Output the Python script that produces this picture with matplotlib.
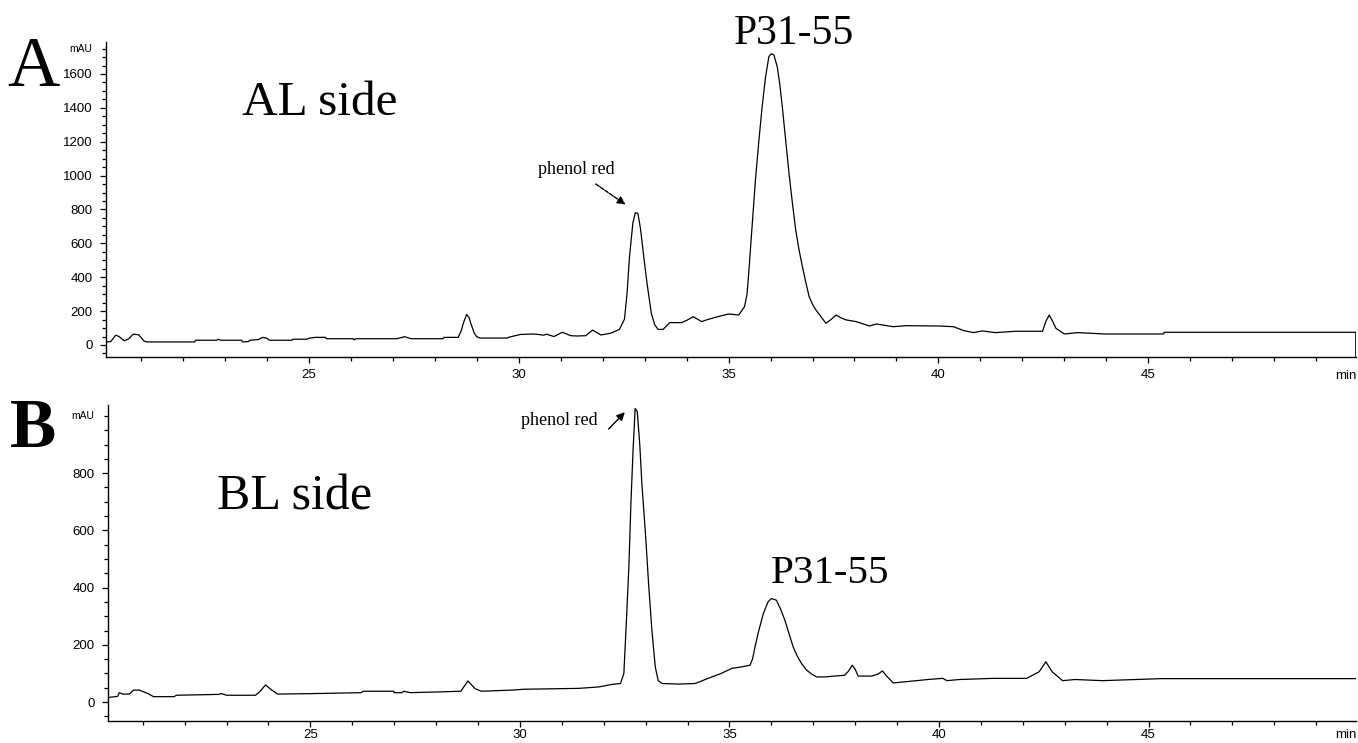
import matplotlib
matplotlib.use("Agg")
import matplotlib.pyplot as plt
from matplotlib.ticker import MultipleLocator

# ---------------- data ----------------
A_time = [20.17, 20.28, 20.40, 20.48, 20.60, 20.70, 20.82, 20.95, 21.08, 21.15,
          22.28, 22.30, 22.80, 22.84, 22.90, 23.40, 23.42, 23.56, 23.60, 23.80,
          23.90, 24.00, 24.06, 24.60, 24.62, 24.96, 25.00, 25.16, 25.40, 25.42,
          26.06, 26.08, 26.12, 27.10, 27.28, 27.44, 28.20, 28.22, 28.56, 28.64,
          28.68, 28.76, 28.82, 28.86, 28.94, 29.00, 29.08, 29.72, 29.80, 30.04,
          30.36, 30.60, 30.66, 30.84, 31.04, 31.24, 31.40, 31.60, 31.76, 31.96,
          32.20, 32.40, 32.52, 32.58, 32.64, 32.72, 32.78, 32.84, 32.90, 32.98,
          33.06, 33.16, 33.24, 33.32, 33.44, 33.60, 33.88, 34.00, 34.16, 34.36,
          34.50, 34.68, 35.00, 35.24, 35.38, 35.44, 35.48, 35.56, 35.64, 35.72,
          35.80, 35.88, 35.96, 36.02, 36.08, 36.16, 36.22, 36.28, 36.36, 36.44,
          36.52, 36.60, 36.68, 36.76, 36.84, 36.92, 37.00, 37.08, 37.20, 37.32,
          37.44, 37.56, 37.68, 37.80, 38.04, 38.20, 38.36, 38.52, 38.92, 39.24,
          40.04, 40.36, 40.60, 40.84, 41.04, 41.36, 41.84, 42.48, 42.56, 42.64,
          42.72, 42.80, 43.00, 43.32, 43.96, 45.36, 45.38, 49.95]
A_mau = [18, 20, 58, 50, 25, 35, 64, 60, 22, 18,
         18, 28, 28, 34, 28, 28, 18, 20, 28, 32,
         45, 40, 28, 28, 34, 34, 40, 45, 45, 37,
         37, 30, 37, 37, 49, 37, 37, 45, 45, 90,
         128, 181, 160, 128, 70, 49, 41, 41, 48, 62,
         65, 58, 64, 50, 75, 55, 53, 55, 88, 59,
         70, 92, 152, 300, 521, 720, 781, 777, 690, 521,
         360, 187, 120, 92, 92, 132, 132, 145, 167, 138,
         150, 163, 183, 177, 226, 300, 423, 700, 974, 1200,
         1407, 1580, 1702, 1720, 1712, 1643, 1540, 1407, 1210, 1013,
         840, 679, 560, 462, 370, 285, 240, 207, 167, 128,
         150, 177, 160, 148, 138, 125, 112, 124, 108, 114,
         112, 108, 85, 73, 83, 73, 81, 81, 140, 177,
         140, 98, 65, 73, 65, 65, 75, 75]

B_time = [20.17, 20.40, 20.44, 20.53, 20.68, 20.78, 20.92, 21.12, 21.26, 21.75,
          21.80, 22.82, 22.87, 23.00, 23.69, 23.79, 23.93, 24.08, 24.22, 25.15,
          26.21, 26.26, 26.99, 27.00, 27.18, 27.23, 27.38, 28.16, 28.59, 28.76,
          28.93, 29.08, 29.81, 30.10, 30.97, 31.40, 31.88, 32.20, 32.40, 32.48,
          32.54, 32.60, 32.65, 32.70, 32.75, 32.80, 32.86, 32.91, 33.00, 33.07,
          33.15, 33.23, 33.30, 33.39, 33.79, 34.18, 34.58, 34.80, 35.06, 35.29,
          35.49, 35.55, 35.61, 35.70, 35.81, 35.92, 36.00, 36.12, 36.22, 36.32,
          36.42, 36.52, 36.62, 36.72, 36.84, 36.96, 37.08, 37.27, 37.75, 37.85,
          37.93, 38.00, 38.07, 38.39, 38.55, 38.65, 38.75, 38.91, 39.19, 39.74,
          40.09, 40.19, 40.49, 41.29, 42.09, 42.39, 42.55, 42.70, 42.95, 43.25,
          43.90, 45.30, 49.95]
B_mau = [16, 20, 33, 28, 28, 42, 42, 30, 19, 19,
         24, 27, 30, 24, 24, 36, 60, 42, 28, 30,
         33, 38, 38, 33, 33, 38, 33, 36, 38, 74,
         47, 38, 42, 45, 47, 48, 53, 62, 65, 100,
         280, 473, 700, 880, 1026, 1015, 900, 764, 580, 415,
         250, 123, 75, 65, 63, 65, 88, 100, 118, 123,
         129, 150, 193, 250, 310, 350, 362, 356, 325, 287,
         240, 193, 160, 135, 112, 98, 88, 88, 94, 110,
         129, 115, 91, 91, 98, 109, 91, 67, 71, 79,
         83, 75, 79, 83, 83, 106, 141, 106, 75, 79,
         75, 82, 82]

x_ticks = [25, 30, 35, 40, 45]
A_yticks = [0, 200, 400, 600, 800, 1000, 1200, 1400, 1600]
B_yticks = [0, 200, 400, 600, 800]

SERIF = ["Liberation Serif", "DejaVu Serif"]
SANS = ["Liberation Sans", "DejaVu Sans"]

fig = plt.figure(figsize=(13.58, 7.43), dpi=100)
axA = fig.add_axes([0.0781, 0.5195, 0.9205, 0.4240])
axB = fig.add_axes([0.0795, 0.0296, 0.9190, 0.4253])

xlim = (20.17, 49.95)
A_ylim = (-71, 1789)
B_ylim = (-66, 1038)


def style(ax, yticks, ylim, ylab_val, xpad, min_y):
    ax.set_xlim(*xlim)
    ax.set_ylim(*ylim)
    for s in ("top", "right"):
        ax.spines[s].set_visible(False)
    for s in ("left", "bottom"):
        ax.spines[s].set_linewidth(1.0)
    ax.set_xticks(x_ticks)
    ax.set_xticklabels([str(t) for t in x_ticks])
    ax.xaxis.set_minor_locator(MultipleLocator(1))
    ax.set_yticks(yticks)
    ax.set_yticklabels([str(t) for t in yticks])
    ax.yaxis.set_minor_locator(MultipleLocator(50))
    ax.tick_params(which="major", direction="out", length=4.5, width=0.9,
                   labelsize=9.5)
    ax.tick_params(which="minor", direction="out", length=2.6, width=0.9)
    ax.tick_params(axis="y", which="major", pad=5)
    ax.tick_params(axis="x", which="major", pad=xpad)
    for lab in ax.get_xticklabels() + ax.get_yticklabels():
        lab.set_family(SANS)
    # unit labels
    ax.text(-0.0112, ylab_val, "mAU", transform=ax.get_yaxis_transform(),
            ha="right", va="center", fontsize=7.5, family=SANS)
    ax.text(0.983, min_y, "min", transform=ax.transAxes, ha="left",
            va="top", fontsize=9.5, family=SANS, clip_on=False)


style(axA, A_yticks, A_ylim, 1750, 4, -0.042)
style(axB, B_yticks, B_ylim, 1000, 1.5, -0.025)

axA.plot(A_time, A_mau, color="black", lw=0.9)
axA.vlines(A_time[-1], A_ylim[0], A_mau[-1], color="black", lw=1.2)
axB.plot(B_time, B_mau, color="black", lw=0.9)

# annotations panel A
axA.text(23.42, 1430, "AL side", fontsize=35.5, family=SERIF, ha="left", va="center")
axA.text(36.55, 1840, "P31-55", fontsize=30, family=SERIF, ha="center",
         va="center", clip_on=False)
axA.text(31.38, 1035, "phenol red", fontsize=13, family=SERIF,
         ha="center", va="center")
axA.annotate("", xy=(32.6, 820), xytext=(31.78, 960),
             arrowprops=dict(arrowstyle="-|>", color="black", lw=1.0,
                             mutation_scale=12, linestyle=(0, (3, 1))))

# annotations panel B
axB.text(22.76, 716, "BL side", fontsize=36, family=SERIF, ha="left", va="center")
axB.text(37.4, 448, "P31-55", fontsize=29.5, family=SERIF, ha="center", va="center")
axB.text(30.93, 985, "phenol red", fontsize=13, family=SERIF,
         ha="center", va="center")
axB.annotate("", xy=(32.55, 1020), xytext=(32.07, 947),
             arrowprops=dict(arrowstyle="-|>", color="black", lw=1.0,
                             mutation_scale=12))

# panel letters
fig.text(33 / 1358, 1 - 68 / 743, "A", fontsize=52, family=SERIF,
         ha="center", va="center")
fig.text(33 / 1358, 1 - 430 / 743, "B", fontsize=50, family=SERIF,
         fontweight="bold", ha="center", va="center")

fig.savefig("out.png", dpi=100, facecolor="white")
